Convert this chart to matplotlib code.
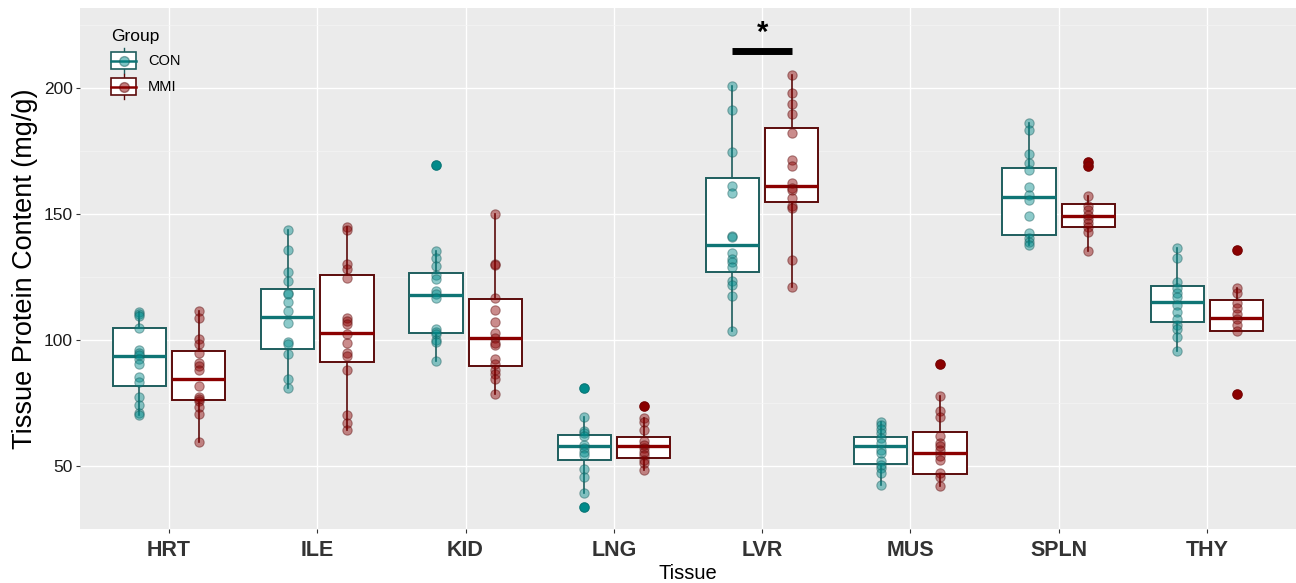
import matplotlib
matplotlib.use("Agg")
import matplotlib.pyplot as plt
from matplotlib.legend_handler import HandlerBase
from matplotlib.patches import Rectangle
from matplotlib.lines import Line2D
import numpy as np

plt.rcParams["font.family"] = ["Liberation Sans", "DejaVu Sans"]

tissues = ["HRT", "ILE", "KID", "LNG", "LVR", "MUS", "SPLN", "THY"]
groups = ["CON", "MMI"]

con_points = [
    [111.2, 110.2, 109.4, 104.9, 95.9, 94.9, 94.0, 92.5, 90.5, 85.2, 83.2, 77.3, 74.2, 71.1, 70.2],
    [143.6, 135.7, 127.0, 123.3, 118.6, 118.0, 115.0, 111.5, 106.6, 99.2, 98.5, 94.5, 84.5, 80.9],
    [169.4, 135.3, 132.4, 129.4, 125.8, 124.1, 119.2, 118.3, 116.8, 104.4, 103.3, 102.4, 100.0, 99.1, 91.8],
    [81.1, 69.6, 64.0, 63.0, 61.9, 58.3, 57.0, 55.7, 54.4, 48.7, 45.8, 39.4, 33.9],
    [200.8, 191.2, 174.6, 161.1, 158.3, 141.0, 140.7, 134.6, 131.9, 130.9, 128.8, 123.3, 121.7, 117.4, 103.7],
    [67.4, 66.1, 64.7, 63.1, 60.9, 59.3, 56.3, 55.0, 51.8, 50.5, 49.1, 47.4, 42.3],
    [186.0, 183.4, 173.8, 170.1, 167.2, 160.6, 157.6, 155.4, 149.3, 142.2, 140.4, 139.0, 137.5],
    [136.3, 132.4, 122.8, 120.6, 118.4, 116.9, 114.0, 111.0, 108.1, 105.9, 104.4, 101.0, 95.6],
]
mmi_points = [
    [111.6, 108.7, 100.3, 98.5, 94.7, 90.9, 89.8, 88.0, 81.8, 77.5, 76.5, 75.8, 73.3, 70.5, 59.5],
    [144.7, 143.6, 129.9, 128.3, 124.7, 108.8, 107.6, 106.3, 102.5, 98.7, 94.9, 93.6, 88.0, 70.2, 67.1, 64.4],
    [150.0, 130.2, 129.5, 116.8, 111.9, 106.9, 102.9, 100.7, 98.7, 97.8, 92.3, 90.5, 88.1, 86.4, 84.5, 78.4],
    [73.9, 68.9, 67.6, 64.3, 59.7, 58.3, 57.0, 55.7, 54.4, 52.4, 51.1, 48.5],
    [204.9, 197.7, 193.4, 189.6, 182.1, 171.5, 168.9, 162.4, 160.4, 159.4, 156.3, 152.9, 152.2, 131.5, 121.0],
    [90.5, 77.6, 71.8, 69.5, 61.7, 59.3, 57.9, 56.3, 53.9, 52.5, 47.1, 45.7, 41.9],
    [170.6, 169.1, 157.1, 152.9, 151.5, 149.6, 147.8, 146.3, 144.6, 142.6, 135.3],
    [135.6, 120.6, 118.4, 114.7, 112.5, 110.3, 108.1, 105.9, 103.7, 78.7],
]

# box statistics as drawn in the reference
con_q1 = [81.8, 96.4, 102.9, 52.2, 127.1, 50.9, 141.5, 106.9]
con_med = [93.6, 109.1, 117.9, 57.9, 137.6, 57.9, 156.6, 115.1]
con_q3 = [104.8, 120.1, 126.7, 62.4, 164.3, 61.3, 168.1, 121.3]
con_lo = [70.2, 80.9, 91.8, 39.4, 103.7, 42.3, 137.5, 95.6]
con_hi = [111.2, 143.6, 135.3, 69.6, 200.8, 67.4, 186.0, 136.3]

mmi_q1 = [76.2, 91.4, 89.8, 53.0, 154.7, 46.8, 144.9, 103.7]
mmi_med = [84.6, 102.7, 100.7, 57.9, 161.1, 55.0, 149.3, 108.8]
mmi_q3 = [95.6, 125.7, 116.4, 61.4, 183.9, 63.6, 153.7, 115.7]
mmi_lo = [59.5, 64.4, 78.4, 48.5, 121.0, 41.9, 135.3, 103.7]
mmi_hi = [111.6, 144.7, 150.0, 68.9, 204.9, 77.6, 157.1, 120.6]

sig_tissue = "LVR"
sig_height = 214.7

dot_col = {"CON": "#008B8B", "MMI": "#8B0000"}
edge_col = {"CON": "#1e5e5e", "MMI": "#5c0b0b"}
med_col = {"CON": "#0f7575", "MMI": "#8B0000"}
offset = {"CON": -0.2, "MMI": 0.2}


def make_stats(q1, med, q3, lo, hi, pts):
    stats = []
    for i in range(len(q1)):
        fl = [p for p in pts[i] if p < lo[i] - 0.05 or p > hi[i] + 0.05]
        stats.append(dict(q1=q1[i], med=med[i], q3=q3[i], whislo=lo[i], whishi=hi[i], fliers=fl))
    return stats


class BoxHandler(HandlerBase):
    def __init__(self, grp):
        super().__init__()
        self.grp = grp

    def create_artists(self, legend, orig_handle, xdescent, ydescent, width, height, fontsize, trans):
        cx = width / 2 - xdescent
        cy = height / 2 - ydescent
        bw, bh = 18, 12
        arts = [
            Line2D([cx, cx], [cy - bh / 2 - 3, cy + bh / 2 + 3], color=edge_col[self.grp], lw=1, transform=trans),
            Rectangle((cx - bw / 2, cy - bh / 2), bw, bh, facecolor="white", edgecolor=edge_col[self.grp], lw=1.2, transform=trans),
            Line2D([cx - bw / 2, cx + bw / 2], [cy, cy], color=med_col[self.grp], lw=1.8, transform=trans),
            Line2D([cx], [cy], marker="o", ms=7, color=dot_col[self.grp], alpha=0.5, mec=edge_col[self.grp], transform=trans),
        ]
        return arts


fig = plt.figure(figsize=(12.96, 5.83), dpi=100)
ax = fig.add_axes([80 / 1296, 1 - 529 / 583, 1 - 80 / 1296, (529 - 8) / 583])
ax.set_facecolor("#EBEBEB")

x = np.arange(1, len(tissues) + 1)
data = {
    "CON": (make_stats(con_q1, con_med, con_q3, con_lo, con_hi, con_points), con_points),
    "MMI": (make_stats(mmi_q1, mmi_med, mmi_q3, mmi_lo, mmi_hi, mmi_points), mmi_points),
}

for g in groups:
    stats, pts = data[g]
    ax.bxp(stats, positions=x + offset[g], widths=0.36, patch_artist=True, showcaps=False,
           boxprops=dict(facecolor="white", edgecolor=edge_col[g], lw=1.4),
           whiskerprops=dict(color=edge_col[g], lw=1.2),
           medianprops=dict(color=med_col[g], lw=2.4),
           flierprops=dict(marker="o", markerfacecolor=dot_col[g], markeredgecolor=dot_col[g], ms=6.5),
           zorder=2)
    for i, p in enumerate(pts):
        ax.scatter(np.full(len(p), x[i] + offset[g]), p, s=45, color=dot_col[g], alpha=0.45,
                   edgecolors=edge_col[g], linewidths=0.8, zorder=3)

# significance marker
k = tissues.index(sig_tissue) + 1
ax.plot([k + offset["CON"], k + offset["MMI"]], [sig_height, sig_height], color="black", lw=5, solid_capstyle="butt", zorder=4)
ax.text(k, sig_height + 1.5, "*", ha="center", va="bottom", fontsize=21, fontweight="bold")

ax.set_xlim(0.4, len(tissues) + 0.6)
ax.set_ylim(25.5, 231.6)
ax.set_xticks(x)
ax.set_xticklabels(tissues, fontsize=15.5, fontweight="bold", color="#333333")
ax.set_yticks([50, 100, 150, 200])
ax.set_yticks([25, 75, 125, 175, 225], minor=True)
ax.tick_params(axis="y", labelsize=12.5, colors="#333333", length=3, labelcolor="#1a1a1a", pad=2)
ax.tick_params(axis="x", length=3, colors="#333333", pad=5)
ax.tick_params(axis="y", which="minor", length=0)
ax.grid(True, which="major", color="white", lw=1.0)
ax.grid(True, which="minor", axis="y", color="#F5F5F5", lw=0.5)
ax.set_axisbelow(True)
for s in ax.spines.values():
    s.set_visible(False)

ax.set_xlabel("Tissue", fontsize=14.5, labelpad=2)
ax.set_ylabel("Tissue Protein Content (mg/g)", fontsize=19.5, labelpad=4)

handles = [Rectangle((0, 0), 1, 1), Rectangle((0, 0), 1, 1)]
leg = ax.legend(handles, groups, title="Group", loc="upper left", bbox_to_anchor=(0.015, 0.985),
                handler_map={handles[0]: BoxHandler("CON"), handles[1]: BoxHandler("MMI")},
                frameon=False, fontsize=10.5, title_fontsize=12.5, handlelength=1.7, handleheight=1.6,
                labelspacing=0.5, handletextpad=0.8, alignment="left")

fig.savefig("out.png", dpi=100)
